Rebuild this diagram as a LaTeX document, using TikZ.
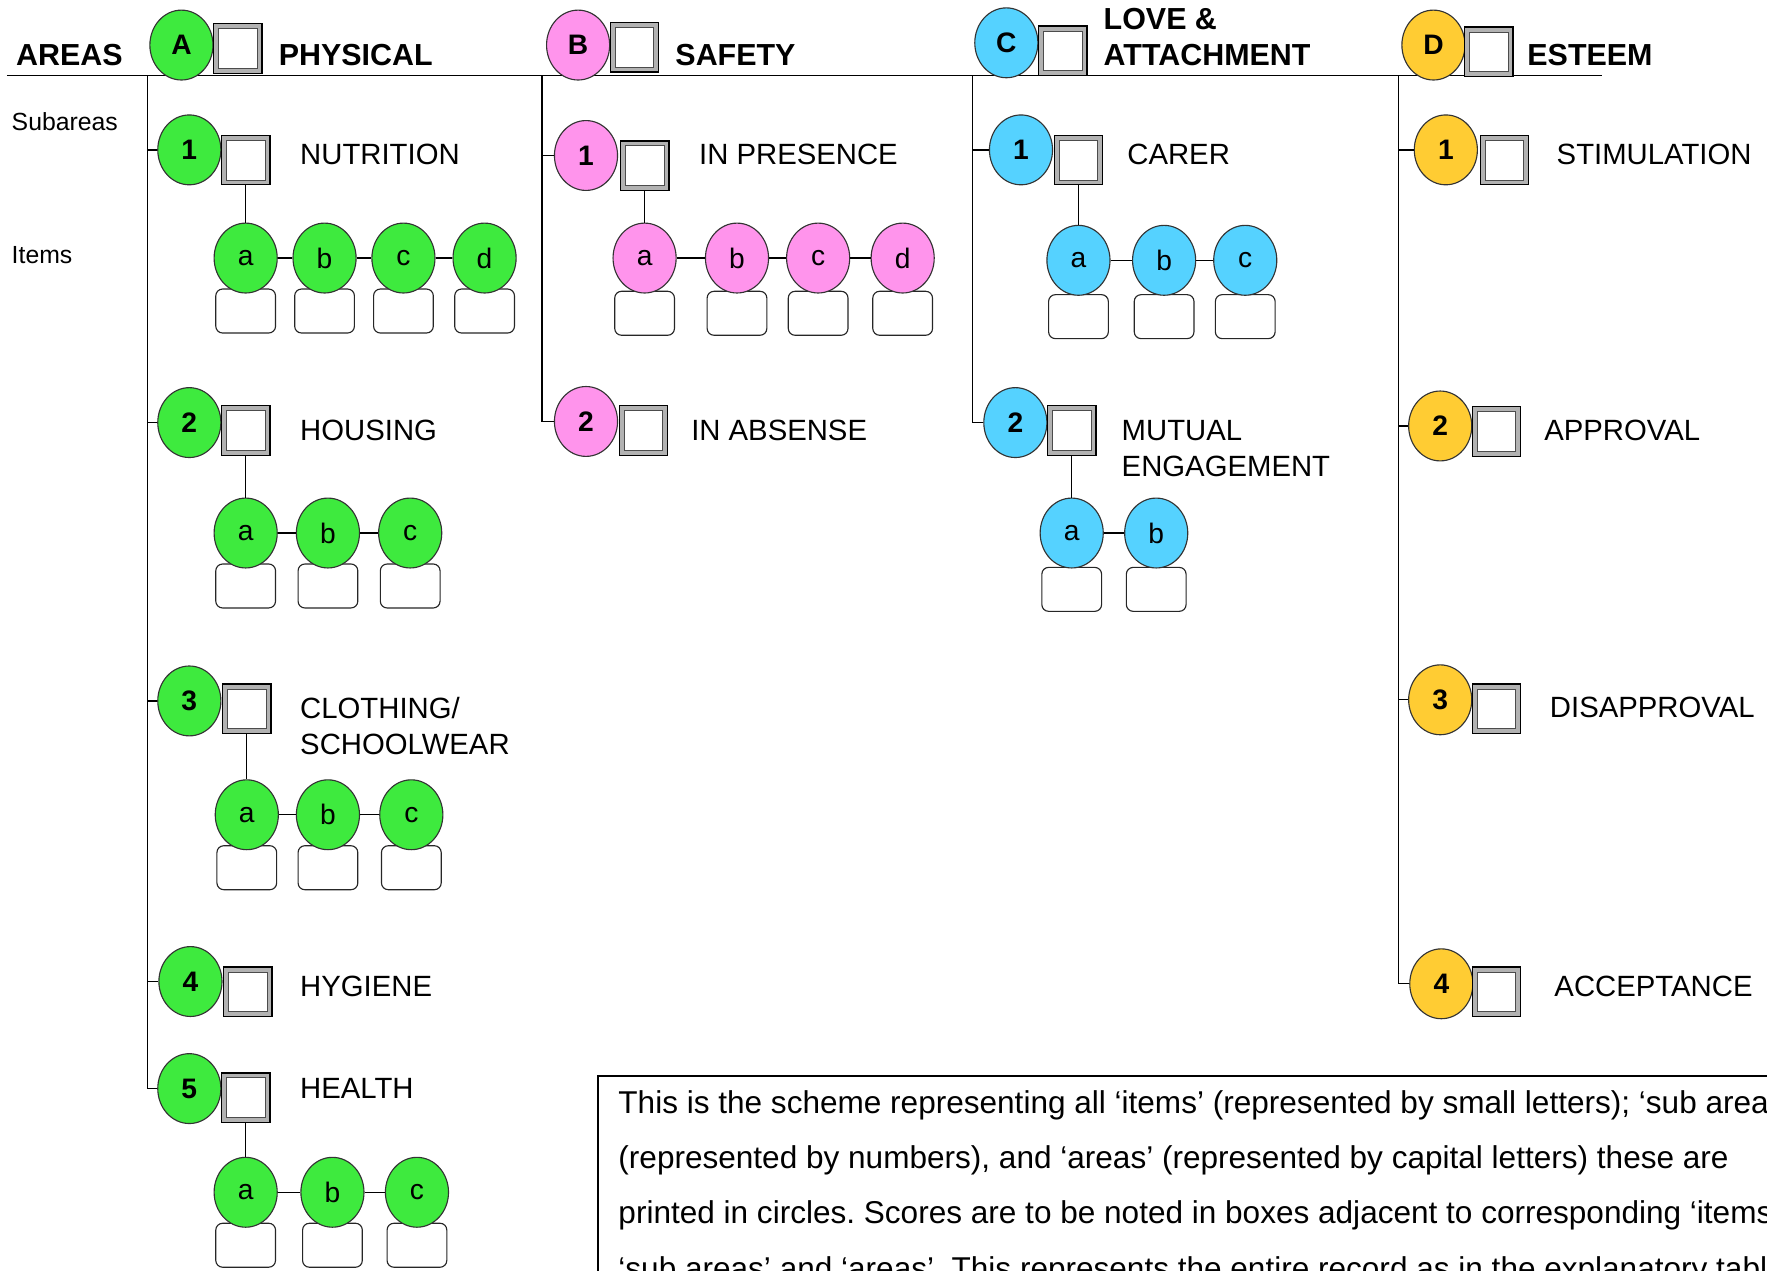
\documentclass[tikz,border=0pt]{standalone}
\usepackage{fontspec}
\setmainfont{Liberation Sans}
\usepackage{tikz}
\usetikzlibrary{shapes.geometric, positioning}
\frenchspacing

\definecolor{physgreen}{HTML}{3EEA3E}
\definecolor{safepink}{HTML}{FF94EC}
\definecolor{loveblue}{HTML}{55D2FF}
\definecolor{esteemyellow}{HTML}{FFCC33}

\tikzset{
  ball/.style={ellipse, draw=black!80, line width=0.5pt, minimum width=28pt, minimum height=31pt, inner sep=0pt, font=\fontsize{12.5}{13}\selectfont\bfseries},
  itemball/.style={ball, font=\fontsize{12.5}{13}\selectfont},
  scorebox/.style={draw=black, line width=0.6pt, fill=gray!60, minimum width=21.5pt, minimum height=22pt, inner sep=0pt,
    path picture={\draw[black!70, line width=0.3pt, fill=white]
      ([xshift=2.2pt,yshift=-2.2pt]path picture bounding box.north west) rectangle
      ([xshift=-2.2pt,yshift=2.2pt]path picture bounding box.south east);}},
  itembox/.style={draw=black!85, line width=0.5pt, rounded corners=3pt, fill=white, minimum width=26.5pt, minimum height=19.5pt},
  heading/.style={anchor=base west, inner sep=0pt, font=\fontsize{13.5}{14}\selectfont\bfseries},
  sublabel/.style={anchor=west, inner sep=0pt, align=left, font=\fontsize{13}{16}\selectfont},
  side/.style={anchor=west, inner sep=0pt, font=\fontsize{11}{12}\selectfont},
  tree/.style={line width=0.6pt},
}

\begin{document}
\begin{tikzpicture}[x=0.5pt, y=-0.5pt]
  \useasboundingbox (0,0) rectangle (1568,1127);
  \clip (0,0) rectangle (1568,1127);

  % rule under the area headings
  \coordinate (rule west) at (6,67);
  \coordinate (rule east) at (1422,67);
  \draw[tree] (rule west) -- (rule east);

  \node[heading] (areas) at (14,58) {AREAS};
  \node[side] (subareas) at (10,108) {Subareas};
  \node[side] (items) at (10,226) {Items};

  % A: physical
  \node[ball, fill=physgreen] (A) at (161,40) {A};
  \node[scorebox] (A-box) at (211,43) {};
  \node[heading] (A-name) at (247,58) {PHYSICAL};

  \node[ball, fill=physgreen] (A1) at (168,133) {1};
  \node[scorebox] (A1-box) at (218,142) {};
  \node[sublabel] (A1-name) at (266,137) {NUTRITION};
  \foreach \l/\x in {a/218,b/288,c/358,d/430} {
    \node[itembox] (A1\l-box) at (\x,276) {};
    \node[itemball, fill=physgreen] (A1\l) at (\x,229) {\l};
  }

  \node[ball, fill=physgreen] (A2) at (168,375) {2};
  \node[scorebox] (A2-box) at (218,382) {};
  \node[sublabel] (A2-name) at (266,382) {HOUSING};
  \foreach \l/\x in {a/218,b/291,c/364} {
    \node[itembox] (A2\l-box) at (\x,520) {};
    \node[itemball, fill=physgreen] (A2\l) at (\x,473) {\l};
  }

  \node[ball, fill=physgreen] (A3) at (168,622) {3};
  \node[scorebox] (A3-box) at (219,629) {};
  \node[sublabel] (A3-name) at (266,644) {CLOTHING/\\SCHOOLWEAR};
  \foreach \l/\x in {a/219,b/291,c/365} {
    \node[itembox] (A3\l-box) at (\x,770) {};
    \node[itemball, fill=physgreen] (A3\l) at (\x,723) {\l};
  }

  \node[ball, fill=physgreen] (A4) at (169,871) {4};
  \node[scorebox] (A4-box) at (220,880) {};
  \node[sublabel] (A4-name) at (266,875) {HYGIENE};

  \node[ball, fill=physgreen] (A5) at (168,966) {5};
  \node[scorebox] (A5-box) at (218,974) {};
  \node[sublabel] (A5-name) at (266,966) {HEALTH};
  \foreach \l/\x in {a/218,b/295,c/370} {
    \node[itembox] (A5\l-box) at (\x,1105) {};
    \node[itemball, fill=physgreen] (A5\l) at (\x,1058) {\l};
  }

  \coordinate (A-stem) at (131,67);
  \draw[tree] (A-stem) |- (A5);
  \foreach \n in {1,...,4}
    \draw[tree] (A-stem |- A\n) -- (A\n);
  \draw[tree] (A1-box) -- (A1a) -- (A1b) -- (A1c) -- (A1d);
  \draw[tree] (A2-box) -- (A2a) -- (A2b) -- (A2c);
  \draw[tree] (A3-box) -- (A3a) -- (A3b) -- (A3c);
  \draw[tree] (A5-box) -- (A5a) -- (A5b) -- (A5c);

  % B: safety
  \node[ball, fill=safepink] (B) at (513,40) {B};
  \node[scorebox] (B-box) at (563,42) {};
  \node[heading] (B-name) at (599,58) {SAFETY};

  \node[ball, fill=safepink] (B1) at (520,138) {1};
  \node[scorebox] (B1-box) at (572,147) {};
  \node[sublabel] (B1-name) at (620,137) {IN PRESENCE};
  \foreach \l/\x in {a/572,b/654,c/726,d/801} {
    \node[itembox] (B1\l-box) at (\x,278) {};
    \node[itemball, fill=safepink] (B1\l) at (\x,229) {\l};
  }

  \node[ball, fill=safepink] (B2) at (520,374) {2};
  \node[scorebox] (B2-box) at (571,382) {};
  \node[sublabel] (B2-name) at (613,382) {IN ABSENSE};

  \coordinate (B-stem) at (481,67);
  \draw[tree] (B-stem) |- (B2);
  \draw[tree] (B-stem |- B1) -- (B1);
  \draw[tree] (B1-box) -- (B1a) -- (B1b) -- (B1c) -- (B1d);

  % C: love & attachment
  \node[ball, fill=loveblue] (C) at (893,38) {C};
  \node[scorebox] (C-box) at (943,45) {};
  \node[heading] (C-name) at (979,26) {LOVE \&};
  \node[heading] (C-name2) at (979,58) {ATTACHMENT};

  \node[ball, fill=loveblue] (C1) at (906,133) {1};
  \node[scorebox] (C1-box) at (957,142) {};
  \node[sublabel] (C1-name) at (1000,137) {CARER};
  \foreach \l/\x in {a/957,b/1033,c/1105} {
    \node[itembox] (C1\l-box) at (\x,281) {};
    \node[itemball, fill=loveblue] (C1\l) at (\x,231) {\l};
  }

  \node[ball, fill=loveblue] (C2) at (901,375) {2};
  \node[scorebox] (C2-box) at (951,382) {};
  \node[sublabel] (C2-name) at (995,398) {MUTUAL\\ENGAGEMENT};
  \foreach \l/\x in {a/951,b/1026} {
    \node[itembox] (C2\l-box) at (\x,523) {};
    \node[itemball, fill=loveblue] (C2\l) at (\x,473) {\l};
  }

  \coordinate (C-stem) at (863,67);
  \draw[tree] (C-stem) |- (C2);
  \draw[tree] (C-stem |- C1) -- (C1);
  \draw[tree] (C1-box) -- (C1a) -- (C1b) -- (C1c);
  \draw[tree] (C2-box) -- (C2a) -- (C2b);

  % D: esteem
  \node[ball, fill=esteemyellow] (D) at (1272,40) {D};
  \node[scorebox] (D-box) at (1321,46) {};
  \node[heading] (D-name) at (1355,58) {ESTEEM};

  \node[ball, fill=esteemyellow] (D1) at (1283,133) {1};
  \node[scorebox] (D1-box) at (1335,142) {};
  \node[sublabel] (D1-name) at (1381,137) {STIMULATION};

  \node[ball, fill=esteemyellow] (D2) at (1278,378) {2};
  \node[scorebox] (D2-box) at (1328,383) {};
  \node[sublabel] (D2-name) at (1370,382) {APPROVAL};

  \node[ball, fill=esteemyellow] (D3) at (1278,621) {3};
  \node[scorebox] (D3-box) at (1328,629) {};
  \node[sublabel] (D3-name) at (1375,628) {DISAPPROVAL};

  \node[ball, fill=esteemyellow] (D4) at (1279,873) {4};
  \node[scorebox] (D4-box) at (1328,880) {};
  \node[sublabel] (D4-name) at (1379,875) {ACCEPTANCE};

  \coordinate (D-stem) at (1241,67);
  \draw[tree] (D-stem) |- (D4);
  \foreach \n in {1,...,3}
    \draw[tree] (D-stem |- D\n) -- (D\n);

  % explanation
  \node[draw, line width=0.8pt, anchor=north west, inner xsep=9pt, inner ysep=6.5pt, align=left,
        font=\fontsize{14}{24.5}\selectfont] (note) at (530,954)
    {This is the scheme representing all `items' (represented by small letters); `sub areas'\\
     (represented by numbers), and `areas' (represented by capital letters) these are\\
     printed in circles. Scores are to be noted in boxes adjacent to corresponding `items',\\
     `sub areas' and `areas'. This represents the entire record as in the explanatory table.};
\end{tikzpicture}
\end{document}
